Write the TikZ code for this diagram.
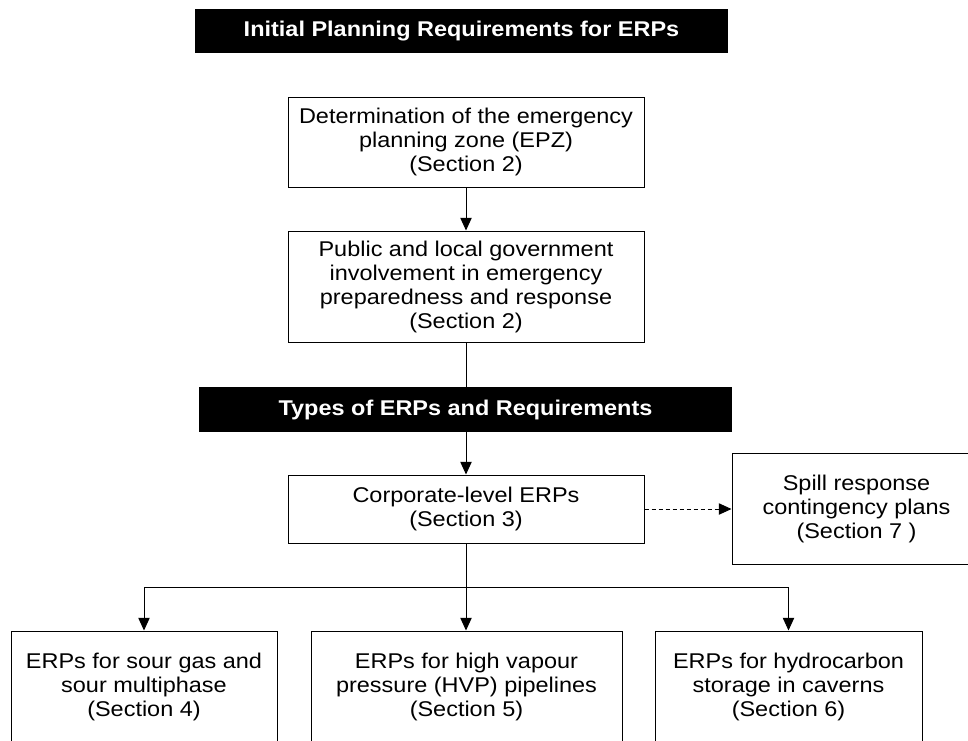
\documentclass[tikz,border=0pt]{standalone}
\usepackage{fontspec}
\setmainfont{Liberation Sans}[FakeStretch=1.1]
\usetikzlibrary{arrows.meta}
\begin{document}
\begin{tikzpicture}[x=0.75pt,y=-0.75pt,
  every node/.style={font=\fontsize{16}{18}\selectfont, inner sep=0pt, align=center},
  banner/.style={fill=black, text=white, font=\fontsize{16}{18}\selectfont\bfseries, minimum width=399.75pt},
  box/.style={draw=black, line width=0.75pt, fill=white},
  conn/.style={line width=0.75pt},
  arr/.style={conn, -{Triangle[length=9.5pt,width=8.5pt]}}]
\clip (0,0) rectangle (968,740);
\fill[white] (0,0) rectangle (968,740);
\node[banner, minimum height=33pt] (b1) at (461.5,31) {Initial Planning Requirements for ERPs};
\node[box, minimum width=267pt, minimum height=67.5pt] (p1) at (466,142) {Determination of the emergency\\planning zone (EPZ)\\(Section 2)};
\node[box, minimum width=267pt, minimum height=83.25pt] (p2) at (466,286.5) {Public and local government\\involvement in emergency\\preparedness and response\\(Section 2)};
\node[banner, minimum height=33.75pt] (b2) at (465.5,409.5) {Types of ERPs and Requirements};
\node[box, minimum width=267pt, minimum height=51pt] (corp) at (466,509) {Corporate-level ERPs\\(Section 3)};
\node[box, minimum width=186.75pt, minimum height=83.25pt] (spill) at (856.5,508.5) {Spill response\\contingency plans\\(Section 7 )};
\node[box, minimum width=199.5pt, minimum height=84pt] (e4) at (144,687) {ERPs for sour gas and\\sour multiphase\\(Section 4)};
\node[box, minimum width=233.25pt, minimum height=84pt] (e5) at (466.5,687) {ERPs for high vapour\\pressure (HVP) pipelines\\(Section 5)};
\node[box, minimum width=200.25pt, minimum height=84pt] (e6) at (788.5,687) {ERPs for hydrocarbon\\storage in caverns\\(Section 6)};
\coordinate (j) at (466,587);
\draw[arr] (p1.south) -- (p2.north);
\draw[conn] (p2.south) -- (p2.south |- b2.north);
\draw[arr] (b2.south -| corp.north) -- (corp.north);
\draw[conn] (corp.south) -- (j);
\draw[arr] (j) -| (e4.north);
\draw[arr] (j) -| (e6.north);
\draw[arr] (j) -- (j |- e5.north);
\draw[arr, dashed, dash pattern=on 3pt off 2.25pt] (corp.east) -- (spill.west |- corp.east);
\end{tikzpicture}
\end{document}
